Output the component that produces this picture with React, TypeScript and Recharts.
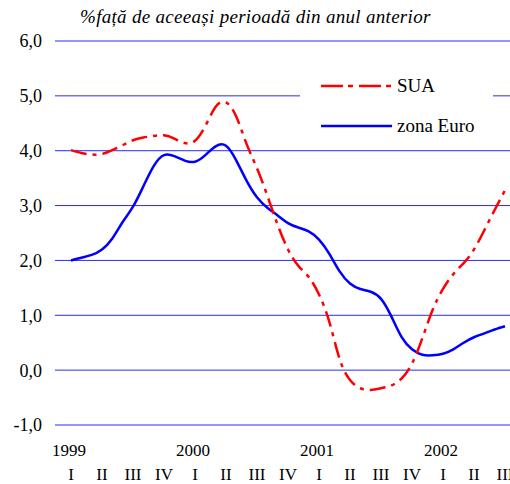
import { LineChart, Line, XAxis, YAxis, CartesianGrid } from "recharts";

// monthly readings, Jan 1999 .. Sep 2002
const years = ["1999", "2000", "2001", "2002"];
const quarterLabels = ["I", "II", "III", "IV"];
const yTicks = [-1, 0, 1, 2, 3, 4, 5, 6];

const sua = [
  4.01, 3.96, 3.93, 3.94, 4.01, 4.1, 4.19, 4.24, 4.27, 4.28, 4.22, 4.14,
  4.18, 4.45, 4.8, 4.88, 4.62, 4.12, 3.68, 3.18, 2.65, 2.2, 1.9, 1.7,
  1.38, 0.88, 0.2, -0.18, -0.33, -0.36, -0.33, -0.28, -0.15, 0.12, 0.58, 1.1,
  1.48, 1.75, 1.95, 2.2, 2.55, 2.92, 3.28
];

const zonaEuro = [
  2.0, 2.05, 2.1, 2.2, 2.4, 2.7, 2.98, 3.35, 3.72, 3.92, 3.9, 3.82,
  3.8, 3.92, 4.08, 4.09, 3.82, 3.45, 3.15, 2.96, 2.82, 2.68, 2.6, 2.53,
  2.38, 2.12, 1.8, 1.58, 1.48, 1.43, 1.3, 0.98, 0.6, 0.38, 0.28, 0.27,
  0.3, 0.38, 0.5, 0.6, 0.67, 0.74, 0.8
];

const data = sua.map((v, i) => ({
  month: `${years[Math.floor(i / 12)]}-${(i % 12) + 1}`,
  sua: v,
  euro: zonaEuro[i]
}));

const FONT = "Liberation Serif";

function QuarterTick(props: any) {
  const { x, y, payload } = props;
  const i = payload.index;
  const q = quarterLabels[Math.floor(i / 3) % 4];
  return (
    <g>
      {i % 12 === 0 && (
        <text x={x - 2} y={y + 31} textAnchor="middle" fontSize={17} fill="#000" fontFamily={FONT}>
          {years[i / 12]}
        </text>
      )}
      <text x={x} y={y + 55} textAnchor="middle" fontSize={17} fill="#000" fontFamily={FONT}>
        {q}
      </text>
    </g>
  );
}

export default function App() {
  return (
    <div style={{ position: "absolute", left: 0, top: 0, width: 510, height: 484, background: "#fff" }}>
      <LineChart width={510} height={484} data={data} margin={{ top: 41, right: 0, left: 0, bottom: 0 }}>
        <CartesianGrid vertical={false} stroke="#2a2aff" strokeOpacity={1} />
        <XAxis
          dataKey="month"
          interval={2}
          padding={{ left: 16, right: 5 }}
          axisLine={false}
          tickLine={false}
          tickSize={0}
          tickMargin={0}
          height={59}
          tick={<QuarterTick />}
        />
        <YAxis
          domain={[-1, 6]}
          ticks={yTicks}
          width={55}
          axisLine={false}
          tickLine={false}
          tickSize={0}
          tickMargin={13}
          tickFormatter={(v: number) => v.toFixed(1).replace(".", ",")}
          tick={{ fill: "#000", fontSize: 18, fontFamily: FONT }}
        />
        <Line
          type="natural"
          dataKey="euro"
          stroke="#0000ff"
          strokeWidth={2.5}
          dot={false}
          isAnimationActive={false}
        />
        <Line
          type="natural"
          dataKey="sua"
          stroke="#ff0000"
          strokeWidth={2.5}
          strokeDasharray="16 6 4 6"
          dot={false}
          isAnimationActive={false}
        />
      </LineChart>
      <div
        style={{
          position: "absolute",
          left: 80,
          top: 6,
          fontFamily: FONT,
          fontStyle: "italic",
          fontSize: 19,
          letterSpacing: 0.3,
          whiteSpace: "nowrap",
          color: "#000"
        }}
      >
        %față de aceeași perioadă din anul anterior
      </div>
      <div
        style={{
          position: "absolute",
          left: 300,
          top: 64,
          width: 193,
          height: 78,
          background: "#fff",
          fontFamily: FONT,
          fontSize: 19,
          color: "#000"
        }}
      >
        <div style={{ position: "absolute", left: 21, top: 11, display: "flex", alignItems: "center" }}>
          <svg width={70} height={6}>
            <line x1={0} y1={3} x2={70} y2={3} stroke="#ff0000" strokeWidth={2.5} strokeDasharray="22 5 5 6" />
          </svg>
          <span style={{ marginLeft: 6 }}>SUA</span>
        </div>
        <div style={{ position: "absolute", left: 21, top: 51, display: "flex", alignItems: "center" }}>
          <svg width={71} height={6}>
            <line x1={0} y1={3} x2={71} y2={3} stroke="#0000ff" strokeWidth={2.5} />
          </svg>
          <span style={{ marginLeft: 5 }}>zona Euro</span>
        </div>
      </div>
    </div>
  );
}
